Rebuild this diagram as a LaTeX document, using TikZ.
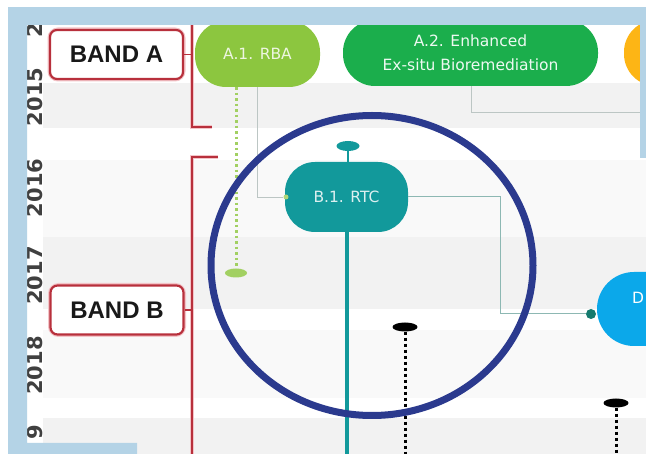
\documentclass[tikz,border=0pt]{standalone}
\usepackage{fontspec}
\setmainfont{DejaVu Sans}
\newfontfamily\bandfont{Liberation Sans}
\usetikzlibrary{shapes.geometric}
\definecolor{frameblue}{HTML}{B4D3E6}
\definecolor{rbagreen}{HTML}{8CC63F}
\definecolor{rbadots}{HTML}{A2D062}
\definecolor{atwogreen}{HTML}{1BAE4C}
\definecolor{orangec}{HTML}{FDB515}
\definecolor{tealc}{HTML}{12999B}
\definecolor{tealline}{HTML}{8DB8B3}
\definecolor{tealdot}{HTML}{157A6E}
\definecolor{dblue}{HTML}{0BA8EA}
\definecolor{circblue}{HTML}{2B3A8E}
\definecolor{bandred}{HTML}{B8303C}
\definecolor{bandglow}{HTML}{F3C4C8}
\definecolor{yeargray}{HTML}{404040}
\definecolor{connc}{HTML}{BCC6C4}
\definecolor{shadea}{HTML}{F2F2F2}
\definecolor{shadeb}{HTML}{F9F9F9}
\tikzset{
  stadium/.style={rectangle, inner sep=0pt, draw=none},
  bandbox/.style={rectangle, draw=bandred, line width=2.2pt, fill=white, rounded corners=7pt,
    minimum width=133pt, minimum height=49pt, inner sep=0pt,
    font=\bandfont\bfseries\fontsize{24}{24}\selectfont, text=black!90},
  bandboxglow/.style={rectangle, draw=bandglow, line width=5pt, rounded corners=8pt,
    minimum width=133pt, minimum height=49pt, inner sep=0pt},
  bracketglow/.style={draw=bandglow, line width=4.5pt},
  bracketline/.style={draw=bandred, line width=1.6pt},
  yearlabel/.style={rotate=90, inner sep=0pt, text=yeargray, font=\bfseries\fontsize{21}{21}\selectfont},
  conn/.style={draw=connc, line width=0.9pt},
  smallell/.style={ellipse, inner sep=0pt, draw=none, minimum width=23pt, minimum height=10pt},
  blackdots/.style={draw=black, line width=3pt, dash pattern=on 3pt off 3pt},
}
\begin{document}
\begin{tikzpicture}[x=1pt,y=-1pt]
\useasboundingbox (0,0) rectangle (646,454);
\clip (0,0) rectangle (646,454);
\fill[white] (0,0) rectangle (646,454);
% year row shading
\fill[shadea] (43,83) rectangle (646,128);
\fill[shadeb] (43,160) rectangle (646,237);
\fill[shadea] (43,237) rectangle (646,309);
\fill[shadeb] (43,330) rectangle (646,398);
\fill[shadea] (43,418) rectangle (646,454);
% year labels
\node[yearlabel] (y14) at (35,30.5) {2};
\node[yearlabel] (y15) at (35,97) {2015};
\node[yearlabel] (y16) at (35,188) {2016};
\node[yearlabel] (y17) at (35,275.5) {2017};
\node[yearlabel] (y18) at (35,365.5) {2018};
\node[yearlabel] (y19) at (35,432) {9};
% bands
\node[bandboxglow] (bandaglow) at (116.5,54.5) {};
\node[bandboxglow] (bandbglow) at (117,310) {};
\node[bandbox] (banda) at (116.5,54.5) {BAND A};
\node[bandbox] (bandb) at (117,310) {BAND B};
\coordinate (bracketatop) at (192,0);
\coordinate (bracketabot) at (212,127);
\coordinate (bracketbtop) at (218,157);
\coordinate (bracketbbot) at (192,460);
\draw[bracketglow] (bracketabot) -- (192,127) -- (bracketatop);
\draw[bracketglow] (bracketbtop) -- (192,157) -- (bracketbbot);
\draw[bracketline] (bracketabot) -- (192,127) -- (bracketatop);
\draw[bracketline] (bracketbtop) -- (192,157) -- (bracketbbot);
\draw[bracketline] (banda.east) -- (192,0 |- banda.east);
\draw[bracketline] (bandb.east) -- (192,0 |- bandb.east);
% activity nodes
\node[stadium, fill=rbagreen, minimum width=125pt, minimum height=66pt, rounded corners=31pt,
  text=white!85!rbagreen, font=\fontsize{15.5}{16}\selectfont] (a1) at (257.5,54) {A.1. RBA};
\node[stadium, fill=atwogreen, minimum width=255pt, minimum height=66pt, rounded corners=32pt,
  text=white!92!atwogreen, align=center, font=\fontsize{15.5}{24}\selectfont] (a2) at (470.5,53) {A.2. Enhanced\\Ex-situ Bioremediation};
\node[stadium, fill=orangec, minimum width=140pt, minimum height=66pt, rounded corners=32pt] (a3) at (694,53) {};
\node[stadium, fill=tealc, minimum width=123pt, minimum height=70pt, rounded corners=30pt,
  text=white!85!tealc, font=\fontsize{15.5}{16}\selectfont] (b1) at (346.5,197) {B.1. RTC};
\node[stadium, fill=dblue, minimum width=140pt, minimum height=74pt, rounded corners=37pt] (d1) at (667,309) {};
\node[anchor=west, inner sep=0pt, text=white, font=\fontsize{15.5}{16}\selectfont] (d1text) at (632,298) {D};
% A.1 connectors
\node[smallell, fill=rbadots, minimum width=22pt, minimum height=9pt] (a1end) at (236,273) {};
\draw[draw=rbadots, line width=3pt, dash pattern=on 2.5pt off 3pt] (236,0 |- a1.south) -- (a1end.north);
\node[circle, fill=rbagreen!70, inner sep=0pt, minimum size=5pt] (b1in) at (286,197) {};
\draw[conn] (257,0 |- a1.south) |- (b1in.west);
% A.2 connector
\coordinate (a2out) at (646,112);
\draw[conn] (471,0 |- a2.south) |- (a2out);
% B.1 connectors
\node[smallell, fill=tealc] (b1top) at (348,146) {};
\draw[draw=tealc, line width=1.2pt] (b1top.south) -- (348,0 |- b1.north);
\coordinate (b1end) at (347,460);
\draw[draw=tealc, line width=4.5pt] (347,0 |- b1.south) -- (b1end);
\node[circle, fill=tealdot, inner sep=0pt, minimum size=10pt] (d1dot) at (591,314) {};
\draw[draw=tealline, line width=1pt] (b1.east) -| (500,314) -- (d1dot.west);
% black milestones
\node[smallell, fill=black, minimum width=25pt, minimum height=9pt] (k1) at (405,327) {};
\coordinate (k1end) at (405,460);
\draw[blackdots] (k1.south) -- (k1end);
\node[smallell, fill=black, minimum width=25pt, minimum height=9pt] (k2) at (616,403) {};
\coordinate (k2end) at (616,460);
\draw[blackdots] (k2.south) -- (k2end);
% highlight circle
\draw[draw=circblue, line width=7pt] (372,265.5) ellipse [x radius=161pt, y radius=150pt];
% frame
\fill[frameblue] (8,7) -- (646,7) -- (646,158) -- (640,158) -- (640,25) -- (27,25) -- (27,443)
  -- (137,443) -- (137,454) -- (8,454) -- cycle;
\fill[white] (0,0) rectangle (646,7);
\fill[white] (0,0) rectangle (8,454);
\end{tikzpicture}
\end{document}
